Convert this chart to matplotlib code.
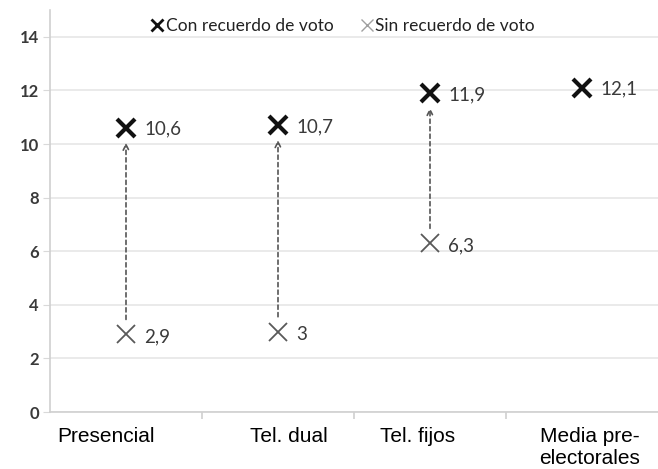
import numpy as np
import matplotlib
matplotlib.use('Agg')
import matplotlib.pyplot as plt
from matplotlib.lines import Line2D

# datos
categorias = ['Presencial', 'Tel. dual', 'Tel. fijos', 'Media pre-\nelectorales']
con_recuerdo = [10.6, 10.7, 11.9, 12.1]
sin_recuerdo = [2.9, 3.0, 6.3, None]
etq_con = ['10,6', '10,7', '11,9', '12,1']
etq_sin = ['2,9', '3', '6,3', None]
# desplazamiento de las etiquetas de categoria (como en el original)
desp_cat = [-0.13, 0.07, -0.08, 0.05]

gris = '#3a3a3a'
fig = plt.figure(figsize=(6.58, 4.69), dpi=100)
ax = fig.add_axes([50/658, 57/469, 608/658, 402/469])

x = np.arange(len(categorias))
ax.set_xlim(-0.5, 3.5)
ax.set_ylim(0, 15)

ax.set_yticks(range(0, 15, 2))
ax.yaxis.grid(True, color='#e6e6e6', lw=1.2)
ax.set_axisbelow(True)
for s in ['top', 'right']:
    ax.spines[s].set_visible(False)
ax.spines['left'].set_color('#d0d0d0')
ax.spines['bottom'].set_color('#d0d0d0')
ax.spines['left'].set_linewidth(1.2)
ax.spines['bottom'].set_linewidth(1.2)
ax.tick_params(axis='y', length=5, color='#d9d9d9', labelsize=12, labelcolor=gris, pad=3)
for t in ax.get_yticklabels():
    t.set_family('Lato')
    t.set_fontweight('bold')

# ticks del eje x entre categorias
ax.set_xticks(x[:-1] + 0.5)
ax.set_xticklabels([])
ax.tick_params(axis='x', length=5, color='#d0d0d0', width=1.2)
for xi, c, d in zip(x, categorias, desp_cat):
    ax.text(xi + d, -0.55, c, ha='center', va='top', fontsize=15, family='Liberation Sans',
            color='black', linespacing=1.2, clip_on=False)

# flechas
for xi, a, b in zip(x, sin_recuerdo, con_recuerdo):
    if a is None:
        continue
    ax.annotate('', xy=(xi, b - 0.45), xytext=(xi, a + 0.45),
                arrowprops=dict(arrowstyle='->', linestyle=(0, (2.5, 2)), color='#555555',
                                lw=1.2, mutation_scale=10))

xs = [xi for xi, v in zip(x, sin_recuerdo) if v is not None]
vs = [v for v in sin_recuerdo if v is not None]
ax.plot(xs, vs, 'x', color='#595959', ms=13, mew=1.3, ls='none', zorder=3)
ax.plot(x, con_recuerdo, 'x', color='#111111', ms=13, mew=3, ls='none', zorder=3)

for xi, v, t in zip(x, con_recuerdo, etq_con):
    ax.text(xi + 0.12, v - 0.05, t, va='center', ha='left', fontsize=13.5, color=gris, family='Lato')
for xi, v, t in zip(x, sin_recuerdo, etq_sin):
    if v is None:
        continue
    ax.text(xi + 0.12, v - 0.1, t, va='center', ha='left', fontsize=13.5, color=gris, family='Lato')

h = [Line2D([], [], marker='x', color='#111111', ms=8, mew=2, ls='none'),
     Line2D([], [], marker='x', color='#a0a0a0', ms=8, mew=1, ls='none')]
ax.legend(h, ['Con recuerdo de voto', 'Sin recuerdo de voto'], loc='upper center',
          bbox_to_anchor=(0.48, 1.02), ncol=2, frameon=False,
          handletextpad=0.0, columnspacing=1.4, handlelength=1.0,
          prop={'family': 'Lato', 'size': 12.5})
for t in ax.get_legend().get_texts():
    t.set_color('#222222')

fig.savefig('out.png', dpi=100)
